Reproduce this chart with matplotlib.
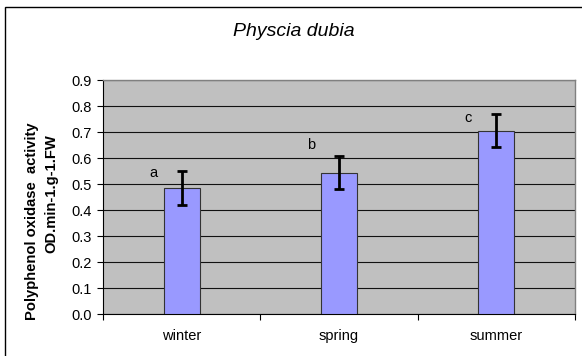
import matplotlib.pyplot as plt
import matplotlib.patches as mpatches
import numpy as np

# ---------------------------------------------------------- #
#  Data                                                      #
# ---------------------------------------------------------- #
SEASONS = ['winter', 'spring', 'summer']
ACTIVITY = [0.485, 0.543, 0.705]      # OD.min-1.g-1.FW
ACTIVITY_ERR = [0.066, 0.064, 0.064]
GROUPS = ['a', 'b', 'c']
GROUP_Y = [0.542, 0.650, 0.754]

BAR_COLOR = '#9999FF'
PLOT_BG = '#C0C0C0'
FONT = 'Liberation Sans'

fig = plt.figure(figsize=(5.82, 3.56), dpi=100)

# outer chart border
fig.patches.append(mpatches.Rectangle((5 / 582, -0.02), 1.2, (356 - 7) / 356 + 0.02,
                                      transform=fig.transFigure, fill=False,
                                      edgecolor='black', linewidth=1.0))

ax = fig.add_axes([103 / 582, 1 - 314 / 356, 472 / 582, 234 / 356])
ax.set_facecolor(PLOT_BG)

x = np.arange(len(SEASONS))
ax.bar(x, ACTIVITY, width=0.23, color=BAR_COLOR, edgecolor='#333333',
       linewidth=0.8, zorder=3)
ax.errorbar(x, ACTIVITY, yerr=ACTIVITY_ERR, fmt='none', ecolor='black',
            elinewidth=2, capsize=3.6, capthick=2, zorder=4)

for i, (g, gy) in enumerate(zip(GROUPS, GROUP_Y)):
    ax.text(i - 0.18, gy, g, ha='center', va='center', fontsize=10.5,
            family=FONT)

ax.set_xlim(-0.5, 2.5)
ax.set_ylim(0, 0.9)
ax.set_yticks(np.arange(0, 0.91, 0.1))
ax.set_yticklabels(['%.1f' % v for v in np.arange(0, 0.91, 0.1)],
                   family=FONT, fontsize=10.5)
ax.yaxis.grid(True, color='#111111', linewidth=0.8, zorder=1)
ax.set_axisbelow(True)

# category boundary ticks on x, labels centred on bars
ax.set_xticks([-0.5, 0.5, 1.5, 2.5])
ax.set_xticklabels([])
ax.set_xticks(x, minor=True)
ax.set_xticklabels(SEASONS, minor=True, family=FONT, fontsize=10.5)
ax.tick_params(axis='x', which='minor', length=0, pad=11)
ax.tick_params(axis='x', which='major', length=4, width=0.8, direction='out')
ax.tick_params(axis='y', length=4, width=0.8, direction='out', pad=4)

for side in ['top', 'right']:
    ax.spines[side].set_color('#808080')
    ax.spines[side].set_linewidth(1.0)
for side in ['left', 'bottom']:
    ax.spines[side].set_color('black')
    ax.spines[side].set_linewidth(0.8)

# two-line axis title, each line placed on its own
fig.text(32 / 582, 1 - 221 / 356, 'Polyphenol oxidase  activity', rotation=90,
         ha='center', va='center', family=FONT, fontsize=10.6, fontweight='bold')
fig.text(51 / 582, 1 - 194 / 356, 'OD.min-1.g-1.FW', rotation=90,
         ha='center', va='center', family=FONT, fontsize=10.6, fontweight='bold')

fig.text(294 / 582, 1 - 31 / 356, 'Physcia dubia', ha='center', va='center',
         fontsize=14, style='italic', family=FONT)

fig.savefig('out.png', dpi=100)
